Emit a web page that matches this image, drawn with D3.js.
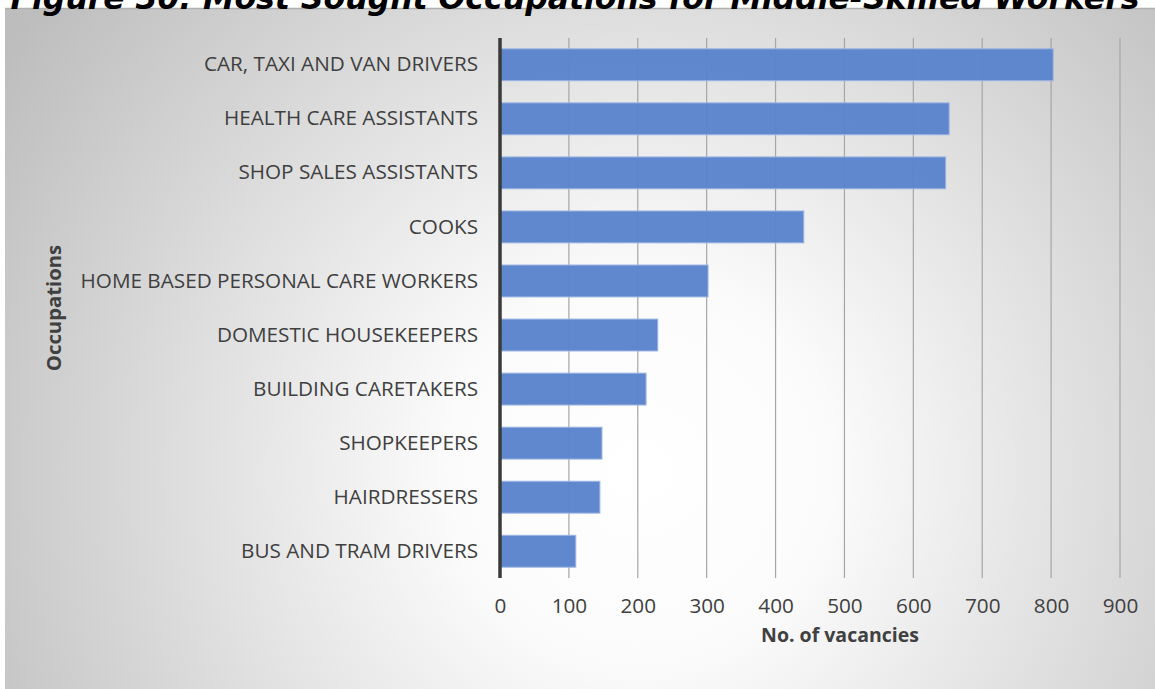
<!DOCTYPE html>
<html><head><meta charset="utf-8">
<script src="https://cdn.jsdelivr.net/npm/d3@7"></script>
<style>body{margin:0;background:#fff;overflow:hidden}</style>
</head><body>
<svg id="c" width="1155" height="689"></svg>
<script>
const categories = ["CAR, TAXI AND VAN DRIVERS","HEALTH CARE ASSISTANTS","SHOP SALES ASSISTANTS","COOKS","HOME BASED PERSONAL CARE WORKERS","DOMESTIC HOUSEKEEPERS","BUILDING CARETAKERS","SHOPKEEPERS","HAIRDRESSERS","BUS AND TRAM DRIVERS"];
const values = [803, 652, 647, 441, 302, 229, 212, 148, 145, 110];
const xTicks = [0,100,200,300,400,500,600,700,800,900];
const title = "Figure 30: Most Sought Occupations for Middle-Skilled Workers";
const xTitle = "No. of vacancies";
const yTitle = "Occupations";

const svg = d3.select("#c");
const defs = svg.append("defs");
const g = defs.append("radialGradient").attr("id","bg").attr("gradientUnits","userSpaceOnUse")
  .attr("cx",640).attr("cy",470).attr("r",760);
g.append("stop").attr("offset","0").attr("stop-color","#ffffff");
g.append("stop").attr("offset","0.25").attr("stop-color","#fbfbfb");
g.append("stop").attr("offset","1").attr("stop-color","#bdbdbd");

svg.append("rect").attr("x",5).attr("y",8).attr("width",1150).attr("height",681).attr("fill","url(#bg)");
svg.append("line").attr("x1",5).attr("x2",1155).attr("y1",8.5).attr("y2",8.5).attr("stroke","#b0b0b0").attr("stroke-width",1.5);

const x = d3.scaleLinear().domain([0,900]).range([500,1120]);
const y = d3.scaleBand().domain(categories).range([38,578]).paddingInner(0.41).paddingOuter(0.2);

// gridlines
svg.append("g").selectAll("line").data(xTicks.slice(1)).join("line")
  .attr("x1",d=>x(d)).attr("x2",d=>x(d)).attr("y1",38).attr("y2",578)
  .attr("stroke","#a6a6a6").attr("stroke-width",1.2);

// bars
svg.append("g").selectAll("rect").data(values).join("rect")
  .attr("x",x(0)).attr("y",(d,i)=>y(categories[i]))
  .attr("width",d=>x(d)-x(0)).attr("height",y.bandwidth())
  .attr("fill","#5b84cc").attr("fill-opacity",0.97)
  .attr("stroke","#9db5e3").attr("stroke-width",1);

// y axis line
svg.append("line").attr("x1",500).attr("x2",500).attr("y1",38).attr("y2",578)
  .attr("stroke","#3a3a3a").attr("stroke-width",3.5);

// category labels
const yAxis = d3.axisLeft(y).tickSize(0).tickPadding(22);
const ya = svg.append("g").attr("transform","translate(500,0)").call(yAxis);
ya.select(".domain").remove();
ya.selectAll("text").attr("font-family","Open Sans, sans-serif").attr("font-size",20.7).attr("fill","#404040");

// x axis labels
const xAxis = d3.axisBottom(x).tickValues(xTicks).tickSize(0).tickPadding(20);
const xa = svg.append("g").attr("transform","translate(0,578)").call(xAxis);
xa.select(".domain").remove();
xa.selectAll("text").attr("font-family","Open Sans, sans-serif").attr("font-size",20.7).attr("fill","#404040");

// axis titles
svg.append("text").attr("x",840).attr("y",642).attr("text-anchor","middle")
  .attr("font-family","Open Sans, sans-serif").attr("font-weight","bold").attr("font-size",19.5).attr("fill","#404040").text(xTitle);
svg.append("text").attr("transform","translate(61,308) rotate(-90)").attr("text-anchor","middle")
  .attr("font-family","Open Sans, sans-serif").attr("font-weight","bold").attr("font-size",20.3).attr("fill","#404040").text(yTitle);

// title (cut off at top, as in the source)
svg.append("text").attr("x",575).attr("y",9).attr("text-anchor","middle")
  .attr("font-family","DejaVu Sans, Verdana, sans-serif").attr("font-weight","bold").attr("font-style","italic")
  .attr("font-size",31.5).attr("fill","#000").text(title);
</script>
</body></html>
